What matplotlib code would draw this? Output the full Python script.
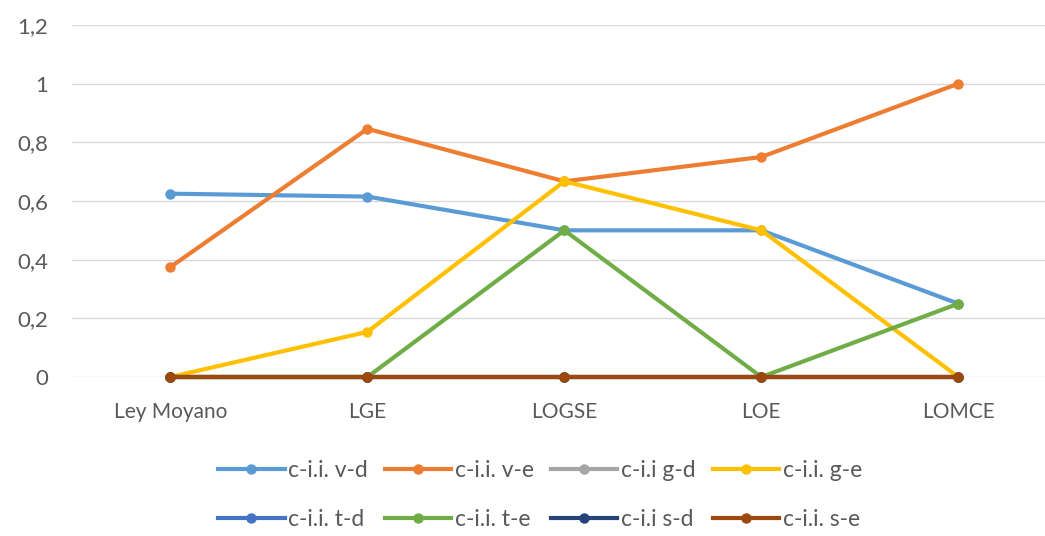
import matplotlib.pyplot as plt
import numpy as np
from matplotlib.ticker import FuncFormatter

categories = ["Ley Moyano", "LGE", "LOGSE", "LOE", "LOMCE"]
labels = ["c-i.i. v-d", "c-i.i. v-e", "c-i.i g-d", "c-i.i. g-e",
          "c-i.i. t-d", "c-i.i. t-e", "c-i.i s-d", "c-i.i. s-e"]
colors = ["#5B9BD5", "#ED7D31", "#A5A5A5", "#FFC000",
          "#4472C4", "#70AD47", "#264478", "#9E480E"]

v_d = [0.625, 0.615, 0.5, 0.5, 0.25]
v_e = [0.375, 0.846, 0.667, 0.75, 1.0]
g_d = [0, 0, 0, 0, 0]
g_e = [0, 0.154, 0.667, 0.5, 0]
t_d = [0, 0, 0, 0, 0]
t_e = [0, 0, 0.5, 0, 0.25]
s_d = [0, 0, 0, 0, 0]
s_e = [0, 0, 0, 0, 0]
series = [v_d, v_e, g_d, g_e, t_d, t_e, s_d, s_e]

plt.rcParams['font.family'] = ['Lato', 'DejaVu Sans']

fig = plt.figure(figsize=(10.45, 5.36), dpi=100)
ax = fig.add_axes([72 / 1045, 1 - 377 / 536, (1045 - 72) / 1045, 352 / 536])

x = np.arange(len(categories))
for vals, lab, col in zip(series, labels, colors):
    ax.plot(x, vals, color=col, lw=3, marker='o', ms=6.5, label=lab,
            solid_joinstyle='round')

ax.set_ylim(0, 1.2)
ax.set_xlim(-0.5, 4.44)
ax.set_yticks(np.arange(0, 1.21, 0.2))
ax.yaxis.set_major_formatter(FuncFormatter(
    lambda v, p: ('%g' % round(v, 1)).replace('.', ',')))
ax.set_xticks(x)
ax.set_xticklabels(categories)
ax.grid(axis='y', color='#D9D9D9', lw=1)
ax.set_axisbelow(True)
for s in ax.spines.values():
    s.set_visible(False)
ax.tick_params(length=0, labelsize=15, colors='#595959')
ax.tick_params(axis='x', pad=18)
ax.tick_params(axis='y', labelsize=16, pad=17)
for ln in ax.lines:
    ln.set_clip_on(False)

# legend filled row by row like Excel
handles, labs = ax.get_legend_handles_labels()
order = [0, 4, 1, 5, 2, 6, 3, 7]
fig.legend([handles[i] for i in order], [labs[i] for i in order],
           loc='center', bbox_to_anchor=(540 / 1045, 1 - 495 / 536), ncol=4,
           frameon=False, fontsize=16.5, handlelength=2.9, handletextpad=0.15,
           columnspacing=0.75, labelspacing=1.2, labelcolor='#595959')

fig.savefig("out.png", dpi=100)
